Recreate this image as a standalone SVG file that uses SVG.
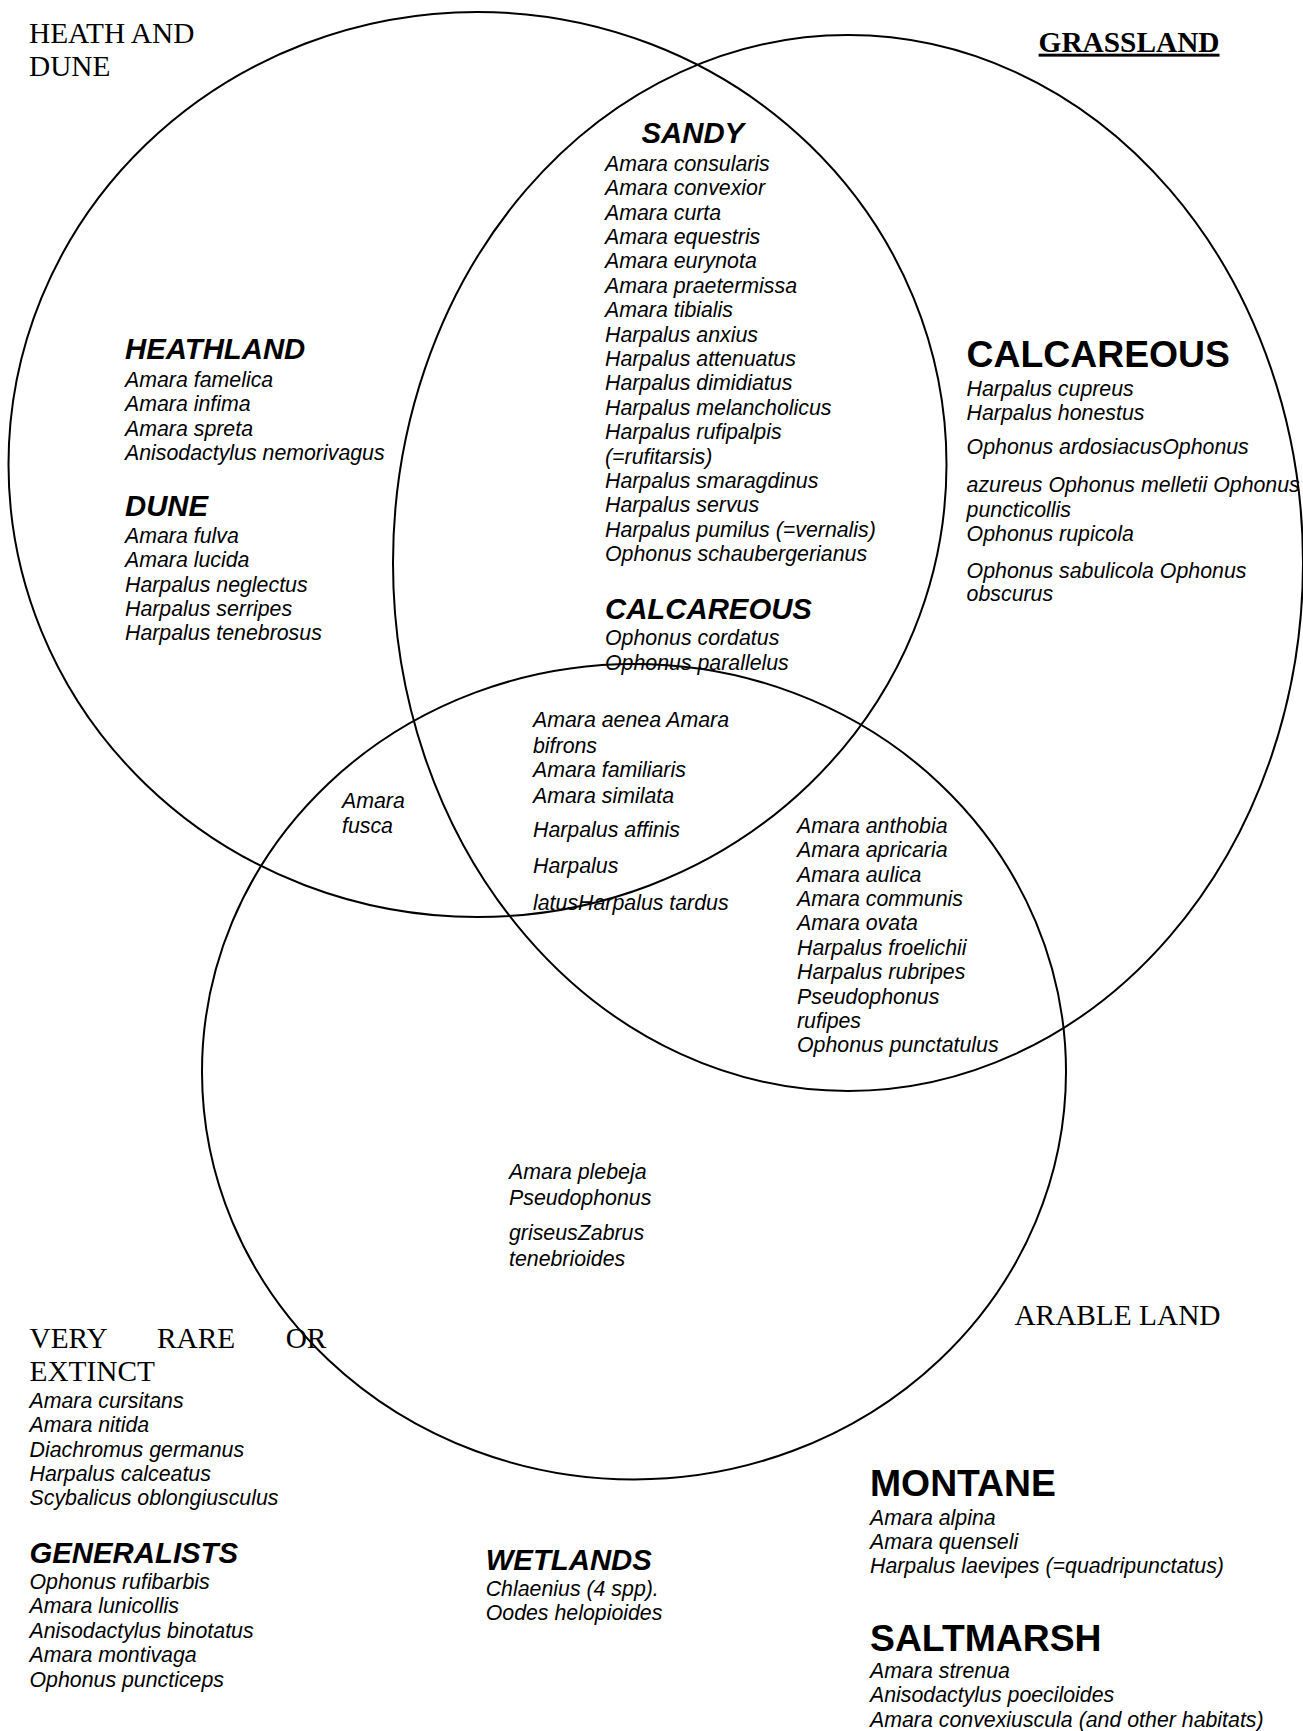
<svg xmlns="http://www.w3.org/2000/svg" width="1303" height="1731" viewBox="0 0 1303 1731">
<style>
.ring{fill:none;stroke:#000;stroke-width:2}
.sp{font-family:"Liberation Sans",Arial,sans-serif;font-style:italic;font-size:21.33px;fill:#000}
.hi{font-family:"Liberation Sans",Arial,sans-serif;font-style:italic;font-weight:bold;font-size:29.33px;fill:#000}
.hb{font-family:"Liberation Sans",Arial,sans-serif;font-weight:bold;font-size:37.33px;fill:#000}
.ser{font-family:"Liberation Serif","Times New Roman",serif;font-size:29.33px;fill:#000}
.serb{font-family:"Liberation Serif","Times New Roman",serif;font-size:29.33px;font-weight:bold;text-decoration:underline;fill:#000}
</style>
<rect width="1303" height="1731" fill="#fff"/>

<g id="sets">
  <ellipse id="set-heath-dune" class="ring" cx="477.5" cy="464.5" rx="469" ry="452.5"/>
  <ellipse id="set-grassland" class="ring" cx="848" cy="563" rx="455" ry="528"/>
  <ellipse id="set-arable" class="ring" cx="634" cy="1071.7" rx="432" ry="407.7"/>
</g>

<g id="label-heath-dune">
  <text class="ser" x="29" y="43">HEATH AND</text>
  <text class="ser" x="29" y="76">DUNE</text>
</g>
<g id="label-grassland">
  <text class="serb" x="1038.6" y="51.7">GRASSLAND</text>
</g>
<g id="label-arable">
  <text class="ser" x="1014.4" y="1325.4">ARABLE LAND</text>
</g>

<g id="heathland">
  <text class="hi" x="125" y="359">HEATHLAND</text>
  <text class="sp" x="125" y="386.7">Amara famelica</text>
  <text class="sp" x="125" y="411.1">Amara infima</text>
  <text class="sp" x="125" y="435.5">Amara spreta</text>
  <text class="sp" x="125" y="459.9">Anisodactylus nemorivagus</text>
</g>

<g id="dune">
  <text class="hi" x="125" y="516">DUNE</text>
  <text class="sp" x="125" y="542.7">Amara fulva</text>
  <text class="sp" x="125" y="567.1">Amara lucida</text>
  <text class="sp" x="125" y="591.5">Harpalus neglectus</text>
  <text class="sp" x="125" y="615.9">Harpalus serripes</text>
  <text class="sp" x="125" y="640.3">Harpalus tenebrosus</text>
</g>

<g id="sandy">
  <text class="hi" x="641.5" y="143.3">SANDY</text>
  <text class="sp" x="605" y="170.7">Amara consularis</text>
  <text class="sp" x="605" y="195.1">Amara convexior</text>
  <text class="sp" x="605" y="219.5">Amara curta</text>
  <text class="sp" x="605" y="243.9">Amara equestris</text>
  <text class="sp" x="605" y="268.3">Amara eurynota</text>
  <text class="sp" x="605" y="292.7">Amara praetermissa</text>
  <text class="sp" x="605" y="317.1">Amara tibialis</text>
  <text class="sp" x="605" y="341.5">Harpalus anxius</text>
  <text class="sp" x="605" y="365.9">Harpalus attenuatus</text>
  <text class="sp" x="605" y="390.3">Harpalus dimidiatus</text>
  <text class="sp" x="605" y="414.7">Harpalus melancholicus</text>
  <text class="sp" x="605" y="439.1">Harpalus rufipalpis</text>
  <text class="sp" x="605" y="463.5">(=rufitarsis)</text>
  <text class="sp" x="605" y="487.9">Harpalus smaragdinus</text>
  <text class="sp" x="605" y="512.3">Harpalus servus</text>
  <text class="sp" x="605" y="536.7">Harpalus pumilus (=vernalis)</text>
  <text class="sp" x="605" y="561.1">Ophonus schaubergerianus</text>
</g>

<g id="calcareous-inner">
  <text class="hi" x="605" y="618.8">CALCAREOUS</text>
  <text class="sp" x="605" y="645">Ophonus cordatus</text>
  <text class="sp" x="605" y="670.2">Ophonus parallelus</text>
</g>

<g id="calcareous-grassland">
  <text class="hb" x="966.6" y="366.7">CALCAREOUS</text>
  <text class="sp" x="966.6" y="396.2">Harpalus cupreus</text>
  <text class="sp" x="966.6" y="420">Harpalus honestus</text>
  <text class="sp" x="966.6" y="453.7">Ophonus ardosiacusOphonus</text>
  <text class="sp" x="966.6" y="491.8">azureus Ophonus melletii Ophonus</text>
  <text class="sp" x="966.6" y="517">puncticollis</text>
  <text class="sp" x="966.6" y="541">Ophonus rupicola</text>
  <text class="sp" x="966.6" y="577.5">Ophonus sabulicola Ophonus</text>
  <text class="sp" x="966.6" y="601">obscurus</text>
</g>

<g id="all-three">
  <text class="sp" x="533" y="727.3">Amara aenea Amara</text>
  <text class="sp" x="533" y="753.3">bifrons</text>
  <text class="sp" x="533" y="777.3">Amara familiaris</text>
  <text class="sp" x="533" y="802.7">Amara similata</text>
  <text class="sp" x="533" y="836.7">Harpalus affinis</text>
  <text class="sp" x="533" y="873.3">Harpalus</text>
  <text class="sp" x="533" y="910">latusHarpalus tardus</text>
</g>

<g id="heath-arable">
  <text class="sp" x="342" y="808.3">Amara</text>
  <text class="sp" x="342" y="833.3">fusca</text>
</g>

<g id="grassland-arable">
  <text class="sp" x="797" y="832.7">Amara anthobia</text>
  <text class="sp" x="797" y="857.1">Amara apricaria</text>
  <text class="sp" x="797" y="881.5">Amara aulica</text>
  <text class="sp" x="797" y="905.9">Amara communis</text>
  <text class="sp" x="797" y="930.3">Amara ovata</text>
  <text class="sp" x="797" y="954.7">Harpalus froelichii</text>
  <text class="sp" x="797" y="979.1">Harpalus rubripes</text>
  <text class="sp" x="797" y="1003.5">Pseudophonus</text>
  <text class="sp" x="797" y="1027.9">rufipes</text>
  <text class="sp" x="797" y="1052.3">Ophonus punctatulus</text>
</g>

<g id="arable-only">
  <text class="sp" x="509" y="1178.5">Amara plebeja</text>
  <text class="sp" x="509" y="1205.4">Pseudophonus</text>
  <text class="sp" x="509" y="1239.5">griseusZabrus</text>
  <text class="sp" x="509" y="1265.8">tenebrioides</text>
</g>

<g id="very-rare">
  <text class="ser" x="29.5" y="1347.5">VERY</text>
  <text class="ser" x="157" y="1347.5">RARE</text>
  <text class="ser" x="285.7" y="1347.5">OR</text>
  <text class="ser" x="29.5" y="1381">EXTINCT</text>
  <text class="sp" x="29.5" y="1407.8">Amara cursitans</text>
  <text class="sp" x="29.5" y="1432.2">Amara nitida</text>
  <text class="sp" x="29.5" y="1456.6">Diachromus germanus</text>
  <text class="sp" x="29.5" y="1481">Harpalus calceatus</text>
  <text class="sp" x="29.5" y="1505.4">Scybalicus oblongiusculus</text>
</g>

<g id="generalists">
  <text class="hi" x="29.5" y="1562.8">GENERALISTS</text>
  <text class="sp" x="29.5" y="1589">Ophonus rufibarbis</text>
  <text class="sp" x="29.5" y="1613.4">Amara lunicollis</text>
  <text class="sp" x="29.5" y="1637.8">Anisodactylus binotatus</text>
  <text class="sp" x="29.5" y="1662.2">Amara montivaga</text>
  <text class="sp" x="29.5" y="1686.6">Ophonus puncticeps</text>
</g>

<g id="wetlands">
  <text class="hi" x="485.7" y="1570">WETLANDS</text>
  <text class="sp" x="485.7" y="1595.8">Chlaenius (4 spp).</text>
  <text class="sp" x="485.7" y="1620.2">Oodes helopioides</text>
</g>

<g id="montane">
  <text class="hb" x="870" y="1496.4">MONTANE</text>
  <text class="sp" x="870" y="1524.5">Amara alpina</text>
  <text class="sp" x="870" y="1548.9">Amara quenseli</text>
  <text class="sp" x="870" y="1572.5">Harpalus laevipes (=quadripunctatus)</text>
</g>

<g id="saltmarsh">
  <text class="hb" x="870" y="1650.5">SALTMARSH</text>
  <text class="sp" x="870" y="1678">Amara strenua</text>
  <text class="sp" x="870" y="1702.4">Anisodactylus poeciloides</text>
  <text class="sp" x="870" y="1726.8">Amara convexiuscula (and other habitats)</text>
</g>
</svg>
